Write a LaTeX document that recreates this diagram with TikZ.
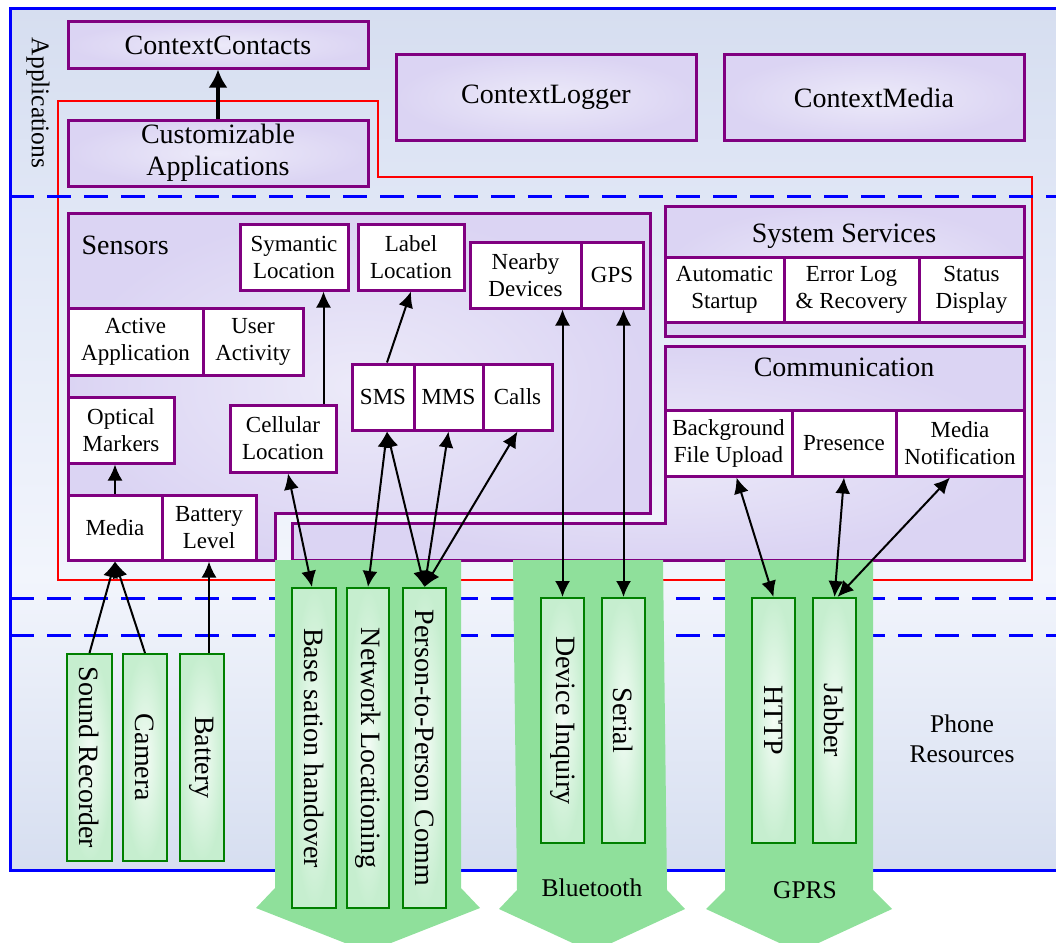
\documentclass[tikz,border=0pt]{standalone}
\usepackage{fontspec}
\setmainfont{Liberation Serif}
\usetikzlibrary{arrows.meta}

\definecolor{purp}{RGB}{128,0,128}
\definecolor{lav}{RGB}{219,212,243}
\definecolor{lavlt}{RGB}{236,234,249}
\definecolor{bgedge}{RGB}{214,222,240}
\definecolor{bglight}{RGB}{242,245,252}
\definecolor{bgmid}{RGB}{227,233,247}
\definecolor{arrowgreen}{RGB}{143,224,155}
\definecolor{gbord}{RGB}{0,128,0}
\definecolor{gfill}{RGB}{198,238,207}
\definecolor{gfilllt}{RGB}{244,252,246}
\definecolor{frameblue}{RGB}{0,0,255}

% backdrop of the phone layers: light band low down, darker at top and bottom
\pgfdeclareverticalshading{phonebg}{100bp}{color(0bp)=(bgedge); color(25bp)=(bgedge); color(42bp)=(bglight); color(60bp)=(bgmid); color(75bp)=(bgedge); color(100bp)=(bgedge)}

\tikzset{
  bigtxt/.style={font=\fontsize{28}{32}\selectfont},
  medtxt/.style={font=\fontsize{25.5}{30}\selectfont},
  smalltxt/.style={font=\fontsize{23}{27}\selectfont},
  appbox/.style={draw=purp, line width=3pt, inner color=lavlt, outer color=lav,
    inner sep=0pt, align=center, bigtxt},
  subbox/.style={draw=purp, line width=3pt, fill=white, inner sep=0pt,
    align=center, smalltxt},
  panel/.style={draw=purp, line width=3pt, inner color=lavlt, outer color=lav},
  gbox/.style={draw=gbord, line width=2pt, inner color=gfilllt, outer color=gfill,
    inner sep=0pt, bigtxt},
  greenarrow/.style={fill=arrowgreen, draw=none},
  layer/.style={draw=frameblue, line width=3pt, dash pattern=on 24pt off 13pt},
  conn/.style={line width=2pt, -{Latex[length=16pt,width=15pt]}},
  biconn/.style={line width=2pt, {Latex[length=16pt,width=15pt]}-{Latex[length=16pt,width=15pt]}},
  thickconn/.style={line width=3.5pt, -{Latex[length=18pt,width=19pt]}},
}

% box given by its corners: style, name, x1, y1, x2, y2, text
\newcommand{\placebox}[7]{%
  \node[#1, minimum width={#5-#3}, minimum height={#6-#4}] (#2)
    at ({(#3+#5)/2},{(#4+#6)/2}) {#7};}

\begin{document}
\begin{tikzpicture}[x=1pt,y=-1pt]
\useasboundingbox (0,0) rectangle (1056,942);
\clip (0,0) rectangle (1056,942);

% phone frame
\path[shading=phonebg, draw=frameblue, line width=3pt] (10,9) rectangle (1080,870);

% customizable part of the system
\draw[red, line width=1.5pt] (58,101) -- (378,101) -- (378,177) -- (1032,177)
  -- (1032,580) -- (58,580) -- cycle;

% layer separators
\draw[layer] (10,196) -- (1060,196);
\draw[layer] (10,598) -- (1060,598);
\draw[layer] (10,635) -- (1060,635);

% applications
\placebox{appbox}{cc}{68}{22}{368}{68}{ContextContacts}
\placebox{appbox}{ca}{68}{120}{368}{186}{Customizable\\Applications}
\placebox{appbox}{cl}{396}{55}{696}{140}{ContextLogger}
\placebox{appbox}{cm}{724}{55}{1024}{140}{ContextMedia}

% sensors panel
\path[panel] (68,213) -- (650,213) -- (650,513) -- (275,513) -- (275,560)
  -- (68,560) -- cycle;
\node[bigtxt, anchor=west] (sensors) at (78,245) {Sensors};

% system services panel
\path[panel] (665,206) rectangle (1024,336);
\node[bigtxt] (syst) at (844,236) {System Services};

% communication panel
\path[panel] (665,346) -- (1024,346) -- (1024,560) -- (292,560) -- (292,523)
  -- (665,523) -- cycle;
\node[bigtxt] (commt) at (844,367) {Communication};

% sensor components
\placebox{subbox}{sl}{240}{224}{348}{290}{Symantic\\Location}
\placebox{subbox}{ll}{358}{224}{464}{290}{Label\\Location}
\placebox{subbox}{nd}{470}{242}{581}{308}{Nearby\\Devices}
\placebox{subbox}{gps}{581}{242}{643}{308}{GPS}
\placebox{subbox}{aa}{68}{308}{203}{375}{Active\\Application}
\placebox{subbox}{ua}{203}{308}{303}{375}{User\\Activity}
\placebox{subbox}{sms}{352}{364}{414}{430}{SMS}
\placebox{subbox}{mms}{414}{364}{483}{430}{MMS}
\placebox{subbox}{calls}{483}{364}{552}{430}{Calls}
\placebox{subbox}{om}{68}{397}{174}{463}{Optical\\Markers}
\placebox{subbox}{cel}{230}{405}{336}{472}{Cellular\\Location}
\placebox{subbox}{med}{68}{495}{162}{560}{Media}
\placebox{subbox}{bl}{162}{495}{256}{560}{Battery\\Level}

% system services components
\placebox{subbox}{as}{665}{257}{784}{322}{Automatic\\Startup}
\placebox{subbox}{el}{784}{257}{919}{322}{Error Log\\\& Recovery}
\placebox{subbox}{sd}{919}{257}{1024}{322}{Status\\Display}

% communication components
\placebox{subbox}{bfu}{665}{410}{792}{476}{Background\\File Upload}
\placebox{subbox}{pr}{792}{410}{896}{476}{Presence}
\placebox{subbox}{mn}{896}{410}{1024}{476}{Media\\Notification}

% network channels
\path[greenarrow] (275,560) -- (461,560) -- (461,888) -- (480,908) -- (368,952)
  -- (256,908) -- (275,888) -- cycle;
\path[greenarrow] (513,560) -- (663,560) -- (667,890) -- (685,909) -- (592,952)
  -- (499,909) -- (517,890) -- cycle;
\path[greenarrow] (725,560) -- (873,560) -- (873,890) -- (892,909) -- (799,952)
  -- (706,909) -- (725,890) -- cycle;
\node[medtxt] (bt) at (592,888) {Bluetooth};
\node[medtxt] (gprs) at (805,890) {GPRS};

% phone resources
\placebox{gbox}{bsh}{292}{588}{336}{908}{\rotatebox{-90}{Base sation handover}}
\placebox{gbox}{nl}{347}{588}{389}{908}{\rotatebox{-90}{Network Locationing}}
\placebox{gbox}{p2p}{403}{588}{446}{908}{\rotatebox{-90}{Person-to-Person Comm}}
\placebox{gbox}{di}{541}{598}{584}{843}{\rotatebox{-90}{Device Inquiry}}
\placebox{gbox}{ser}{602}{598}{645}{843}{\rotatebox{-90}{Serial}}
\placebox{gbox}{http}{752}{598}{795}{843}{\rotatebox{-90}{HTTP}}
\placebox{gbox}{jab}{813}{598}{856}{843}{\rotatebox{-90}{Jabber}}
\placebox{gbox}{sr}{67}{654}{112}{861}{\rotatebox{-90}{Sound Recorder}}
\placebox{gbox}{cam}{123}{654}{167}{861}{\rotatebox{-90}{Camera}}
\placebox{gbox}{bat}{180}{654}{224}{861}{\rotatebox{-90}{Battery}}

% layer names
\node[medtxt] (appl) at (38,103) {\rotatebox{-90}{Applications}};
\node[medtxt, align=center] (phone) at (962,739) {Phone\\Resources};

% data flow
\draw[thickconn] (ca.north) -- (cc.south);
\draw[conn] (med.north) -- (med.north |- om.south);
\coordinate (celtop) at ([xshift=-14pt]cel.north east);
\draw[conn] (celtop) -- (celtop |- sl.south);
\draw[conn] ([xshift=4pt]sms.north) -- (ll.south);
\draw[biconn] (di.north) -- (di.north |- nd.south);
\draw[biconn] (ser.north) -- (ser.north |- gps.south);
\draw[biconn] ([xshift=5pt]cel.south) -- ([xshift=-2pt]bsh.north);
\draw[biconn] ([xshift=4pt]sms.south) -- (nl.north);
\draw[biconn] ([xshift=4pt]sms.south) -- (p2p.north);
\draw[biconn] (mms.south) -- (p2p.north);
\draw[biconn] (calls.south) -- (p2p.north);
\draw[conn] (sr.north) -- (med.south);
\draw[conn] (cam.north) -- (med.south);
\draw[conn] (bl.south |- bat.north) -- (bl.south);
\draw[biconn] ([xshift=8pt]bfu.south) -- (http.north);
\draw[biconn] (pr.south) -- (jab.north);
\draw[biconn] ([xshift=-10pt]mn.south) -- ([xshift=3pt]jab.north);
\end{tikzpicture}
\end{document}
